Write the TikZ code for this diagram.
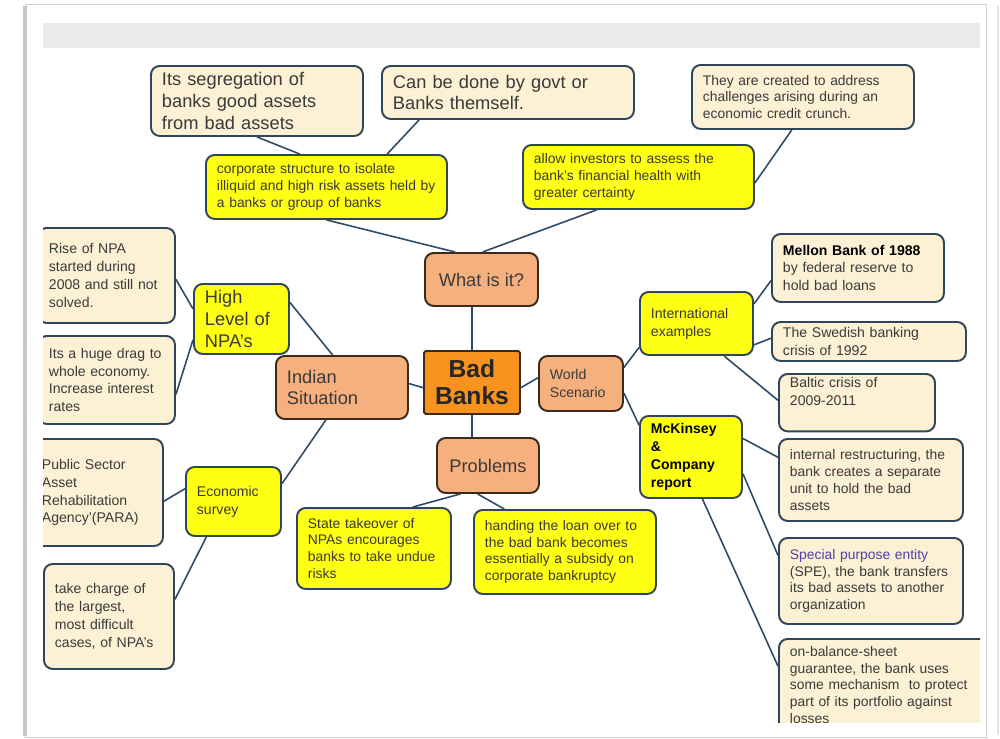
\documentclass[tikz,border=0pt]{standalone}
\usepackage{fontspec}
\setmainfont{Liberation Sans}
\usepackage{xcolor}
\usetikzlibrary{calc}
\definecolor{ink}{HTML}{3A3A3A}
\definecolor{edge}{HTML}{2F4559}
\definecolor{link}{HTML}{2E4A66}
\definecolor{cream}{HTML}{FCF1D4}
\definecolor{lemon}{HTML}{FFFF14}
\definecolor{peach}{HTML}{F5B07E}
\definecolor{amber}{HTML}{F7931E}
\definecolor{umber}{HTML}{3A2A1C}
\definecolor{violet}{HTML}{4F40A8}
\definecolor{band}{HTML}{EBEBEB}
\definecolor{rim}{HTML}{D2D2D2}
\newcommand{\bigtxt}{\fontsize{10.4}{12.4}\selectfont}
\newcommand{\midtxt}{\fontsize{8}{10.2}\selectfont}
\newcommand{\smalltxt}{\fontsize{7.9}{9.6}\selectfont}
\hyphenpenalty=10000
\exhyphenpenalty=10000
\tikzset{
  card/.style={draw=edge,line width=1.1pt,rounded corners=5pt,inner xsep=0.22cm,inner ysep=0.06cm,align=left,text=ink,anchor=north west},
  note/.style={card,fill=cream},
  hint/.style={card,fill=lemon},
  topic/.style={card,fill=peach,draw=umber,align=center,font=\bigtxt},
  hub/.style={card,fill=amber,draw=umber,rounded corners=1pt,align=center,font=\fontsize{14}{15.5}\selectfont\bfseries,text=black!85},
  conn/.style={draw=link,line width=0.9pt},
}

\begin{document}
\begin{tikzpicture}[x=1cm,y=-1cm]
  \useasboundingbox (0,0) rectangle (20,14.78);
  % page and header band
  \fill[white] (0,0) rectangle (20,14.78);
  \draw[rim,line width=0.5pt] (0.5,0.08) rectangle (19.72,14.74);
  \fill[gray!45] (0.46,0.12) rectangle (0.54,14.72);
  \draw[gray!20,line width=0.6pt] (19.96,0.1) -- (19.96,14.7);
  \fill[band] (0.86,0.46) rectangle (19.6,0.96);
  \begin{scope}
    \clip (0.86,0.96) rectangle (19.6,14.44);
    % what is it
    \node[note,font=\bigtxt,minimum width=4.24cm,minimum height=1.40cm,text width=3.80cm] (seg) at (3.00,1.30)
      {Its segregation of\\banks good assets\\from bad assets};
    \node[note,font=\bigtxt,minimum width=5.04cm,minimum height=1.06cm,text width=4.60cm] (govt) at (7.62,1.30)
      {Can be done by govt or\\Banks themself.};
    \node[note,font=\fontsize{7.9}{9.6}\selectfont,minimum width=4.44cm,minimum height=1.28cm,text width=4.00cm] (crunch) at (13.82,1.28)
      {They are created to address\\challenges arising during an\\economic credit crunch.};
    \node[hint,font=\smalltxt,minimum width=4.82cm,minimum height=1.28cm,text width=4.38cm] (corp) at (4.10,3.08)
      {corporate structure to isolate\\illiquid and high risk assets held by\\a banks or group of banks};
    \node[hint,font=\smalltxt,minimum width=4.62cm,minimum height=1.28cm,text width=4.18cm] (allow) at (10.44,2.88)
      {allow investors to assess the\\bank's financial health with\\greater certainty};
    % centre
    \node[topic,minimum width=2.26cm,minimum height=1.06cm] (what) at (8.48,5.04) {What is it?};
    \node[hub,minimum width=1.92cm,minimum height=1.26cm] (bad) at (8.46,7.00) {Bad\\Banks};
    \node[topic,font=\midtxt,align=left,minimum width=1.68cm,minimum height=1.10cm,text width=1.24cm] (world) at (10.76,7.10)
      {World\\Scenario};
    \node[topic,align=left,minimum width=2.64cm,minimum height=1.26cm,text width=2.20cm] (indian) at (5.50,7.10)
      {Indian\\Situation};
    \node[topic,minimum width=2.04cm,minimum height=1.10cm] (problems) at (8.72,8.74) {Problems};
    % indian situation
    \node[hint,font=\bigtxt,minimum width=1.90cm,minimum height=1.40cm,text width=1.46cm] (high) at (3.86,5.66)
      {High\\Level of\\NPA's};
    \node[note,font=\midtxt,minimum width=2.74cm,minimum height=1.90cm,text width=2.30cm] (rise) at (0.74,4.54)
      {Rise of NPA\\started during\\2008 and still not\\solved.};
    \node[note,font=\midtxt,minimum width=2.74cm,minimum height=1.76cm,text width=2.30cm] (drag) at (0.74,6.70)
      {Its a huge drag to\\whole economy.\\Increase interest\\rates};
    \node[hint,font=\midtxt,minimum width=1.90cm,minimum height=1.38cm,text width=1.46cm] (econ) at (3.70,9.32)
      {Economic\\survey};
    \node[note,font=\midtxt,minimum width=2.64cm,minimum height=2.14cm,text width=2.20cm] (para) at (0.60,8.76)
      {Public Sector\\Asset\\Rehabilitation\\Agency'(PARA)};
    \node[note,font=\midtxt,minimum width=2.60cm,minimum height=2.10cm,text width=2.16cm] (charge) at (0.86,11.26)
      {take charge of\\the largest,\\most difficult\\cases, of NPA's};
    % problems
    \node[hint,font=\smalltxt,minimum width=3.08cm,minimum height=1.62cm,text width=2.64cm] (state) at (5.92,10.14)
      {State takeover of\\NPAs encourages\\banks to take undue\\risks};
    \node[hint,font=\smalltxt,minimum width=3.64cm,minimum height=1.68cm,text width=3.20cm] (handing) at (9.46,10.18)
      {handing the loan over to\\the bad bank becomes\\essentially a subsidy on\\corporate bankruptcy};
    % world scenario
    \node[hint,font=\midtxt,minimum width=2.26cm,minimum height=1.26cm,text width=1.82cm] (intl) at (12.78,5.82)
      {International\\examples};
    \node[note,font=\midtxt,minimum width=3.44cm,minimum height=1.36cm,text width=3.00cm] (mellon) at (15.42,4.66)
      {\textcolor{black}{\textbf{Mellon Bank of 1988}}\\by federal reserve to\\hold bad loans};
    \node[note,font=\midtxt,inner ysep=0.02cm,minimum width=3.88cm,minimum height=0.78cm,text width=3.44cm] (swedish) at (15.42,6.42)
      {The Swedish banking\\crisis of 1992};
    \node[note,font=\midtxt,minimum width=3.12cm,minimum height=1.04cm,text width=2.68cm] (baltic) at (15.56,7.46)
      {Baltic crisis of\\2009-2011\\\strut};
    \node[hint,font=\midtxt\bfseries,text=black,minimum width=2.04cm,minimum height=1.64cm,text width=1.60cm] (mck) at (12.78,8.30)
      {McKinsey\\\&\\Company\\report};
    \node[note,font=\smalltxt,minimum width=3.68cm,minimum height=1.64cm,text width=3.24cm] (internal) at (15.56,8.76)
      {internal restructuring, the\\bank creates a separate\\unit to hold the bad\\assets};
    \node[note,font=\smalltxt,minimum width=3.68cm,minimum height=1.72cm,text width=3.24cm] (spe) at (15.56,10.74)
      {\textcolor{violet}{Special purpose entity}\\(SPE), the bank transfers\\its bad assets to another\\organization};
    \node[note,font=\smalltxt,minimum width=4.30cm,minimum height=1.84cm,text width=3.86cm] (balance) at (15.56,12.76)
      {on-balance-sheet\\guarantee, the bank uses\\some mechanism\ \ to protect\\part of its portfolio against\\losses};
    % connectors
    \draw[conn] ($(seg.south west)!0.5!(seg.south east)$) -- ($(corp.north west)!0.39!(corp.north east)$);
    \draw[conn] ($(govt.south west)!0.15!(govt.south east)$) -- ($(corp.north west)!0.75!(corp.north east)$);
    \draw[conn] ($(crunch.south west)!0.45!(crunch.south east)$) -- ($(allow.north east)!0.59!(allow.south east)$);
    \draw[conn] ($(corp.south west)!0.5!(corp.south east)$) -- ($(what.north west)!0.27!(what.north east)$);
    \draw[conn] ($(allow.south west)!0.32!(allow.south east)$) -- ($(what.north west)!0.51!(what.north east)$);
    \draw[conn] (bad.north) -- (bad.north |- what.south);
    \draw[conn] (bad.south) -- (bad.south |- problems.north);
    \draw[conn] ($(indian.north east)!0.44!(indian.south east)$) -- ($(bad.north west)!0.58!(bad.south west)$);
    \draw[conn] ($(bad.north east)!0.58!(bad.south east)$) -- ($(world.north west)!0.4!(world.south west)$);
    \draw[conn] ($(indian.north west)!0.43!(indian.north east)$) -- ($(high.north east)!0.27!(high.south east)$);
    \draw[conn] ($(high.north west)!0.36!(high.south west)$) -- ($(rise.north east)!0.54!(rise.south east)$);
    \draw[conn] ($(high.north west)!0.79!(high.south west)$) -- ($(drag.north east)!0.66!(drag.south east)$);
    \draw[conn] ($(indian.south west)!0.38!(indian.south east)$) -- ($(econ.north east)!0.25!(econ.south east)$);
    \draw[conn] ($(econ.north west)!0.32!(econ.south west)$) -- ($(para.north east)!0.58!(para.south east)$);
    \draw[conn] ($(econ.south west)!0.22!(econ.south east)$) -- ($(charge.north east)!0.34!(charge.south east)$);
    \draw[conn] ($(problems.south west)!0.235!(problems.south east)$) -- ($(state.north west)!0.75!(state.north east)$);
    \draw[conn] ($(problems.south west)!0.40!(problems.south east)$) -- ($(handing.north west)!0.17!(handing.north east)$);
    \draw[conn] ($(world.north east)!0.22!(world.south east)$) -- ($(intl.north west)!0.87!(intl.south west)$);
    \draw[conn] ($(world.north east)!0.67!(world.south east)$) -- ($(mck.north west)!0.12!(mck.south west)$);
    \draw[conn] ($(intl.north east)!0.2!(intl.south east)$) -- ($(mellon.north west)!0.68!(mellon.south west)$);
    \draw[conn] ($(intl.north east)!0.83!(intl.south east)$) -- ($(swedish.north west)!0.42!(swedish.south west)$);
    \draw[conn] ($(intl.south west)!0.74!(intl.south east)$) -- ($(baltic.north west)!0.46!(baltic.south west)$);
    \draw[conn] ($(mck.north east)!0.28!(mck.south east)$) -- ($(internal.north west)!0.23!(internal.south west)$);
    \draw[conn] ($(mck.north east)!0.7!(mck.south east)$) -- ($(spe.north west)!0.21!(spe.south west)$);
    \draw[conn] ($(mck.south west)!0.61!(mck.south east)$) -- ($(balance.north west)!0.30!(balance.south west)$);
  \end{scope}
\end{tikzpicture}
\end{document}
